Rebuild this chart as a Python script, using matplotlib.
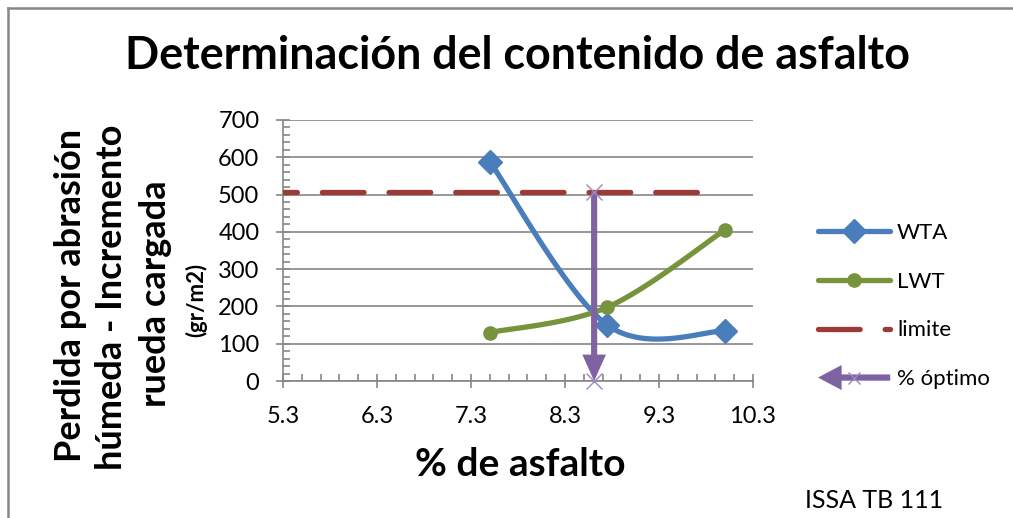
#! /usr/bin/env python3

import matplotlib
matplotlib.use("Agg")
import matplotlib.pyplot as plt
import matplotlib.patches as mpatches
from matplotlib.lines import Line2D
from matplotlib.legend_handler import HandlerPatch
import numpy

# valores
asfalto   = [7.5, 8.75, 10.0]
wta       = [588, 150, 134]
lwt       = [130, 198, 405]
limite_x  = [5.3, 9.75]
limite_y  = [508, 508]
optimo_x  = [8.61, 8.61]
optimo_y  = [508, 0]
xticks    = [5.3, 6.3, 7.3, 8.3, 9.3, 10.3]
yticks    = [0, 100, 200, 300, 400, 500, 600, 700]

AZUL    = "#4A7EBB"
VERDE   = "#77933C"
ROJO    = "#9B3A36"
MORADO  = "#7F62A1"
GRIS    = "#868686"

plt.rcParams["font.family"] = ["Lato", "DejaVu Sans"]
plt.rcParams["lines.scale_dashes"] = False

W, H = 1013, 518
fig = plt.figure(figsize=(W / 100, H / 100), dpi=100)
ax = fig.add_axes([283 / W, 1 - 381 / H, (753 - 283) / W, (381 - 120) / H])

ax.set_xlim(5.3, 10.3)
ax.set_ylim(0, 700)

# escala en pixeles para suavizar como Excel
sx = (753 - 283) / 5.0
sy = (381 - 120) / 700.0


def suavizar(xs, ys, n=60):
    p = numpy.column_stack([numpy.array(xs) * sx, numpy.array(ys) * sy])
    out = [p[0]]
    for i in range(len(p) - 1):
        p0 = p[i - 1] if i > 0 else p[i]
        p1 = p[i]
        p2 = p[i + 1]
        p3 = p[i + 2] if i + 2 < len(p) else p[i + 1]
        c1 = p1 + (p2 - p0) / 6
        c2 = p2 - (p3 - p1) / 6
        t = numpy.linspace(0, 1, n)[1:, None]
        seg = ((1 - t) ** 3) * p1 + 3 * ((1 - t) ** 2) * t * c1 + 3 * (1 - t) * t ** 2 * c2 + t ** 3 * p2
        out.extend(seg)
    out = numpy.array(out)
    return out[:, 0] / sx, out[:, 1] / sy


ax.grid(axis="y", color=GRIS, lw=1.2)
ax.set_axisbelow(True)

xs, ys = suavizar(asfalto, wta)
ax.plot(xs, ys, color=AZUL, lw=3.8, solid_capstyle="round", zorder=3)
ax.plot(asfalto, wta, ls="none", marker="D", ms=12.5, color=AZUL, zorder=4)

xs, ys = suavizar(asfalto, lwt)
ax.plot(xs, ys, color=VERDE, lw=3.8, solid_capstyle="round", zorder=3)
ax.plot(asfalto, lwt, ls="none", marker="o", ms=9.5, color=VERDE, zorder=4)

ax.plot(limite_x, limite_y, color=ROJO, lw=3.8, dash_capstyle="round",
        ls=(20, (30, 18)), zorder=3)

flecha = mpatches.FancyArrowPatch((optimo_x[0], optimo_y[0]), (optimo_x[1], optimo_y[1]),
                                  arrowstyle="simple,head_length=0.95,head_width=0.85,tail_width=0.22",
                                  mutation_scale=20, color=MORADO, lw=0,
                                  shrinkA=0, shrinkB=0, zorder=5, clip_on=False)
ax.add_patch(flecha)
ax.plot(optimo_x, optimo_y, ls="none", marker="x", ms=12, mew=1.0,
        color="#9C88C0", zorder=6, clip_on=False)

for s in ["top", "right"]:
    ax.spines[s].set_visible(False)
for s in ["left", "bottom"]:
    ax.spines[s].set_color(GRIS)
    ax.spines[s].set_linewidth(1.2)

ax.set_xticks(xticks)
ax.set_xticklabels([str(v) for v in xticks])
ax.set_yticks(yticks)
ax.set_xticks(numpy.arange(5.3, 10.31, 0.2), minor=True)
ax.set_yticks(numpy.arange(0, 701, 20), minor=True)
ax.tick_params(which="major", direction="inout", length=10, width=1.2, color=GRIS,
               labelsize=17)
ax.tick_params(axis="x", which="major", pad=13)
ax.tick_params(axis="y", which="major", pad=12)
ax.tick_params(which="minor", direction="in", length=5, width=1.2, color=GRIS)

# titulos
fig.text(517 / W, 1 - 69 / H, "Determinación del contenido de asfalto",
         ha="center", va="baseline", fontsize=32.3, fontweight="bold")
fig.text(520 / W, 1 - 465 / H, "% de asfalto", ha="center", va="center",
         fontsize=28, fontweight="bold")

fig.text(71 / W, 1 - 295 / H, "Perdida por abrasión", rotation=90,
         ha="center", va="center", fontsize=26, fontweight="bold")
fig.text(111 / W, 1 - 297 / H, "húmeda - Incremento", rotation=90,
         ha="center", va="center", fontsize=26, fontweight="bold")
fig.text(156 / W, 1 - 294 / H, "rueda cargada", rotation=90,
         ha="center", va="center", fontsize=26, fontweight="bold")
fig.text(196 / W, 1 - 300 / H, "(gr/m2)", rotation=90,
         ha="center", va="center", fontsize=16, fontweight="bold")

fig.text(805 / W, 1 - 508 / H, "ISSA TB 111", ha="left", va="baseline", fontsize=18)

# leyenda


def hacer_flecha(legend, orig_handle, xdescent, ydescent, width, height, fontsize):
    return mpatches.FancyArrow(width - xdescent, height / 2 - ydescent, -width, 0,
                               width=4.5, head_width=18, head_length=17,
                               length_includes_head=True, color=MORADO, lw=0)


h_wta = Line2D([], [], color=AZUL, lw=3.8, marker="D", ms=12.5, solid_capstyle="round")
h_lwt = Line2D([], [], color=VERDE, lw=3.8, marker="o", ms=9.5, solid_capstyle="round")
h_lim = Line2D([], [], color=ROJO, lw=3.8, dash_capstyle="round", ls=(0, (30, 18)))
h_opt = (mpatches.FancyArrow(0, 0, 1, 0, color=MORADO, lw=0),
         Line2D([], [], ls="none", marker="x", ms=9, mew=1.0, color="#9C88C0"))

fig.legend([h_wta, h_lwt, h_lim, h_opt], ["WTA", "LWT", "limite", "% óptimo"],
           loc="center left", bbox_to_anchor=(818 / W, 1 - 306 / H),
           frameon=False, fontsize=16, handlelength=3.25, handletextpad=0.3,
           labelspacing=1.3, borderpad=0, borderaxespad=0,
           handler_map={mpatches.FancyArrow: HandlerPatch(patch_func=hacer_flecha)})

# marco del grafico
fig.add_artist(Line2D([8 / W, 1], [1 - 7.5 / H, 1 - 7.5 / H], color="#888888", lw=1.8))
fig.add_artist(Line2D([8 / W, 8 / W], [0, 1 - 7.5 / H], color="#888888", lw=1.8))

plt.savefig("out.png", dpi=100)
